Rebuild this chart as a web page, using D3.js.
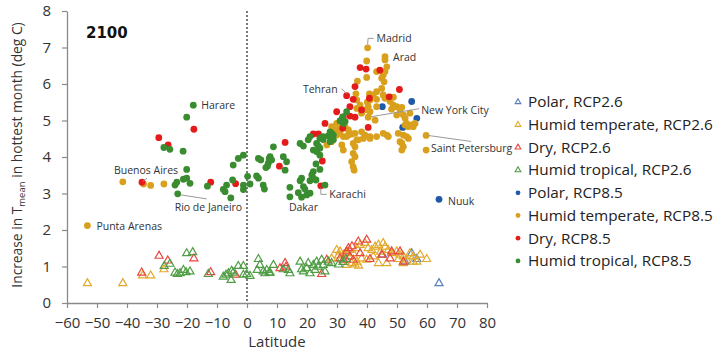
<!DOCTYPE html>
<html>
<head>
<meta charset="utf-8">
<script src="https://cdn.jsdelivr.net/npm/d3@7"></script>
<style>
  html, body { margin: 0; padding: 0; background: #fff; }
  svg { display: block; font-family: "Open Sans", "Noto Sans", sans-serif; }
</style>
</head>
<body>
<svg id="chart" width="717" height="350"></svg>
<script>
// Axis ticks
const xTicks = [-60, -50, -40, -30, -20, -10, 0, 10, 20, 30, 40, 50, 60, 70, 80];
const yTicks = [0, 1, 2, 3, 4, 5, 6, 7, 8];

// Series: [latitude, increase in hottest-month mean temperature (deg C)]
const polar26 = [[45.2,1.32],[54.9,1.36],[56.6,1.20],[52.7,1.13],[64,0.54]];

const humidTemperate26 = [
  [-53.2,0.54],[-41.4,0.54],[-34.8,0.75],[-32.1,0.75],[-27.7,0.92],[28.2,1.22],[29.9,1.45],[31,1.41],
  [32.1,1.32],[33.2,1.36],[34.3,1.45],[35.4,1.36],[36.6,1.50],[37.7,1.59],[39.3,1.64],[40.4,1.50],
  [41.6,1.45],[42.7,1.54],[43.8,1.59],[45.4,1.64],[46,1.54],[47.1,1.45],[48.2,1.36],[49.9,1.41],
  [51,1.32],[52.1,1.27],[53.2,1.18],[54.3,1.36],[55.4,1.27],[56.6,1.13],[57.7,1.32],[59.9,1.20],
  [43.8,1.09],[46.6,1.09],[34.9,1.09],[33.2,1.04],[36.6,1.13],[38.2,1.22],[39.9,1.18],[42.1,1.27],
  [52.1,1.09],[55.4,1.13],[36,1.05],[37.2,1.02],[30.5,1.30],[44.5,1.40],[50.5,1.20]
];

const dry26 = [
  [-35.1,0.83],[-29.3,1.29],[-26.4,1.16],[-17.7,1.22],[-12.1,0.84],[-3.8,0.77],[11,0.95],[12.7,1.09],
  [13,0.99],[24.9,0.79],[26.6,1.18],[37.1,1.68],[39.9,1.73],[33.2,1.41],[34.3,1.27],[32.1,1.18],
  [31,1.22],[35.4,1.18],[37.7,1.36],[41,1.20],[44.9,1.32],[47.7,1.22],[51,1.41],[52.1,1.13],
  [48.2,1.41],[33.8,1.50],[35,1.55]
];

const humidTropical26 = [
  [-25.7,1.07],[-27.6,1.01],[-24,0.83],[-23.2,0.79],[-22.3,0.81],[-21.2,0.90],[-20.3,0.84],[-19,0.86],
  [-20.1,1.36],[-18.1,1.39],[-12.9,0.79],[-7.9,0.72],[-7,0.77],[-6.2,0.81],[-5.1,0.88],[-4.6,0.83],
  [-5.3,0.63],[-2.9,1.01],[-1.2,1.01],[-1.2,0.77],[-0.1,0.79],[1,0.74],[3.8,1.20],[4.3,1.04],
  [3.4,0.90],[5.4,0.86],[6.6,0.90],[7.4,0.83],[6,0.81],[7.7,0.83],[8.8,1.04],[12.1,0.92],
  [14.3,0.81],[13.8,0.90],[17.7,1.13],[18.2,0.92],[18.8,0.86],[19.9,0.95],[20.4,1.09],[21,0.81],
  [22.7,0.90],[22.1,1.04],[23.2,1.13],[24.9,1.18],[23.8,0.99],[26,0.86],[25.4,1.04],[27.1,1.13],
  [28.2,1.09],[30.5,1.05],[32,1.12],[33,1.20]
];

const polar85 = [[54.9,5.52],[45.1,5.38],[56.6,5.06],[51.9,4.81],[64,2.84]];

const humidTemperate85 = [
  [-53.2,2.12],[-41.4,3.32],[-34.5,3.26],[-32.1,3.22],[-27.7,3.26],
  [40.2,6.99],[46,6.75],[46,6.66],[46.6,6.47],[46,6.34],[45.4,6.25],[44.9,6.16],[45.7,6.06],
  [39.9,6.63],[43.2,6.34],[39.9,6.18],[36.8,6.08],[44.9,5.88],[45.4,5.70],[36.3,5.73],[40.8,5.73],
  [42.1,5.70],[43.2,5.58],[41,5.56],[40.1,5.50],[48.8,5.64],[43.2,5.79],[46,5.61],[47.7,5.52],
  [48.8,5.42],[36.6,5.56],[37.7,5.42],[40.4,5.38],[36.6,5.33],[38.2,5.20],[39.3,5.29],[41,5.24],
  [43.2,5.38],[48.2,5.31],[49.9,5.38],[51,5.29],[51.6,5.36],[49.9,5.15],[52.1,5.15],[54.3,5.20],
  [52.7,5.06],[40.4,5.09],[42.7,5.01],[53.2,4.92],[54.9,4.88],[56,4.92],[55.4,4.83],[53.8,4.83],
  [52.7,4.88],[29.9,4.92],[31,4.83],[32.7,4.83],[33.8,4.74],[31,4.69],[32.1,4.56],[33.8,4.60],
  [36,4.65],[38.2,4.69],[39.3,4.60],[41,4.56],[43.2,4.56],[45.4,4.65],[46.6,4.60],[38.8,4.51],
  [36.6,4.47],[52.1,4.60],[53.2,4.56],[51.6,4.38],[52.1,4.28],[51.6,4.19],[36,4.28],[35.4,4.10],
  [36,4.01],[34.9,3.87],[35.4,3.73],[35.7,3.64],[26.6,4.33],[28.2,4.42],[59.7,4.19],[59.7,4.59],
  [31.6,4.33],[32.1,4.19],[35.4,4.37],[41,4.51],[47.1,4.56],[51,4.42],[50.4,4.65],[53.8,4.51],
  [29.3,4.74],[29.9,4.60],[28.2,4.83],[37.1,4.47],[34.9,4.63],[33.2,4.56]
];

const dry85 = [
  [-35,3.31],[-29.4,4.53],[-26.3,4.33],[-17.7,4.76],[-12.1,3.31],[-3.8,3.27],
  [37.7,6.45],[39.7,6.41],[44.3,6.38],[36,5.93],[50.8,5.85],[33.2,5.68],[35.4,5.58],[40.8,5.61],
  [47.4,5.65],[34.3,5.38],[29.9,5.24],[38.2,5.29],[32.1,5.10],[34.3,5.12],[36,5.09],[26,4.92],
  [31.9,4.79],[40.4,4.81],[22.1,4.63],[23.8,4.63],[12.7,4.40],[10.8,3.75],[25.1,3.89],[24.6,3.21]
];

const humidTropical85 = [
  [-17.9,5.42],[-20.1,5.09],[-27.7,4.26],[-25.7,4.21],[-21.3,4.16],[-20.1,3.66],[-23.4,3.31],[-24,3.23],
  [-21.2,3.39],[-20.1,3.42],[-19,3.28],[-23.1,2.99],[-13.2,3.20],[-7.9,3.11],[-7.3,3.05],[-6.8,3.23],
  [-4.8,3.37],[-5.4,2.88],[-1.2,3.23],[-1.2,3.11],[0.2,3.47],[1,3.26],[-4.6,3.78],[-2.9,3.96],
  [-1.2,4.05],[3.2,3.48],[3.8,3.42],[5.4,3.23],[5.8,3.12],[3.8,3.96],[4.6,3.92],[7.4,3.96],
  [7.1,3.83],[6.3,3.71],[6.8,3.75],[8.8,4.28],[12.1,4.01],[13.2,3.87],[12.7,3.64],[7.7,4.01],
  [8.2,3.92],[17.7,4.37],[18.8,4.30],[20.4,4.47],[21,4.56],[23.2,4.37],[24.3,4.24],[23.2,4.15],
  [22.1,4.19],[23.8,4.30],[25.4,4.48],[27.1,4.58],[28.2,4.65],[28.8,4.47],[27.7,4.42],[24.3,4.05],
  [23,3.81],[24.3,3.66],[22.1,3.60],[21.6,3.51],[22.1,3.42],[23,3.37],[21,3.35],[18.2,3.42],
  [17.7,3.35],[26,3.23],[18.8,3.19],[19.3,3.12],[21,3.01],[19.9,2.96],[14.3,3.17],[14.3,2.91],
  [18.2,2.90],[17.1,3.02],[33.2,5.24],[31.9,5.10],[31.6,5.03],[31,4.99],[32.7,4.97],[32.1,4.92],
  [27.7,4.69],[28.8,4.60],[25.4,4.56],[24.3,4.51]
];

// Named places: [name, latitude, value]
const cities = [
  ["Harare", -17.9, 5.42], ["Buenos Aires", -35, 3.31], ["Rio de Janeiro", -23.1, 2.99],
  ["Punta Arenas", -53.2, 2.12], ["Dakar", 14.3, 2.91], ["Karachi", 24.6, 3.21],
  ["Nuuk", 64, 2.84], ["Madrid", 40.2, 6.99], ["Arad", 46, 6.75], ["Tehran", 33.2, 5.68],
  ["New York City", 40.4, 5.09], ["Saint Petersburg", 59.7, 4.19]
];

const seriesNames = [
  "Polar, RCP2.6", "Humid temperate, RCP2.6", "Dry, RCP2.6", "Humid tropical, RCP2.6",
  "Polar, RCP8.5", "Humid temperate, RCP8.5", "Dry, RCP8.5", "Humid tropical, RCP8.5"
];

// ---- drawing ----
const svg = d3.select("#chart");
const x = d3.scaleLinear().domain([-60, 80]).range([67, 487]);
const y = d3.scaleLinear().domain([0, 8]).range([303, 11]);

const series = [
  { name: seriesNames[0], data: polar26,          color: "#5a7fc0", shape: "tri" },
  { name: seriesNames[1], data: humidTemperate26, color: "#e2aa2c", shape: "tri" },
  { name: seriesNames[2], data: dry26,            color: "#e8473f", shape: "tri" },
  { name: seriesNames[3], data: humidTropical26,  color: "#4f9d45", shape: "tri" },
  { name: seriesNames[4], data: polar85,          color: "#1f5aa6", shape: "dot" },
  { name: seriesNames[5], data: humidTemperate85, color: "#d9a01d", shape: "dot" },
  { name: seriesNames[6], data: dry85,            color: "#e41b1b", shape: "dot" },
  { name: seriesNames[7], data: humidTropical85,  color: "#3a8c30", shape: "dot" }
];

// axes
const axisColor = "#8a8a8a";
const xAxis = svg.append("g")
  .attr("transform", `translate(0,${y(0)})`)
  .call(d3.axisBottom(x).tickValues(xTicks).tickSize(5).tickPadding(9).tickSizeOuter(0));
const yAxis = svg.append("g")
  .attr("transform", `translate(${x(-60)},0)`)
  .call(d3.axisLeft(y).tickValues(yTicks).tickSize(5).tickPadding(11).tickSizeOuter(0));
[xAxis, yAxis].forEach(g => {
  g.select(".domain").attr("stroke", axisColor).attr("stroke-width", 1.3);
  g.selectAll(".tick line").attr("stroke", axisColor).attr("stroke-width", 1.2);
  g.selectAll(".tick text").attr("fill", "#333").attr("font-size", 15)
    .attr("font-family", "'Open Sans', sans-serif");
});

// equator line
svg.append("line")
  .attr("x1", x(0)).attr("x2", x(0)).attr("y1", y(8)).attr("y2", y(0))
  .attr("stroke", "#333").attr("stroke-width", 1.3).attr("stroke-dasharray", "2,2");

// axis titles
svg.append("text")
  .attr("x", (x(-60) + x(80)) / 2).attr("y", 347)
  .attr("text-anchor", "middle").attr("font-size", 15).attr("fill", "#333")
  .text("Latitude");

const yTitle = svg.append("text")
  .attr("transform", `translate(22,${(y(0) + y(8)) / 2 - 2}) rotate(-90)`)
  .attr("text-anchor", "middle").attr("font-size", 13.8).attr("fill", "#333");
yTitle.append("tspan").text("Increase in T");
yTitle.append("tspan").attr("font-size", 9.5).attr("dy", 3).text("mean");
yTitle.append("tspan").attr("dy", -3).text(" in hottest month (deg C)");

// year tag
svg.append("text")
  .attr("x", 86).attr("y", 37.5)
  .attr("font-size", 15).attr("font-weight", "bold").attr("fill", "#111")
  .attr("font-family", "'DejaVu Sans', sans-serif")
  .text("2100");

// marks
const tri = d3.symbol().type(d3.symbolTriangle).size(28);
series.forEach(s => {
  const g = svg.append("g");
  if (s.shape === "tri") {
    g.selectAll("path").data(s.data).join("path")
      .attr("d", tri)
      .attr("transform", d => `translate(${x(d[0])},${y(d[1])})`)
      .attr("fill", "none").attr("stroke", s.color).attr("stroke-width", 1.2);
  } else {
    g.selectAll("circle").data(s.data).join("circle")
      .attr("cx", d => x(d[0])).attr("cy", d => y(d[1])).attr("r", 3.4)
      .attr("fill", s.color);
  }
});

// place labels and leader lines
const labelLayout = {
  "Harare":           { dx: 8,   dy: 0,   anchor: "start" },
  "Buenos Aires":     { dx: 4,   dy: -12, anchor: "middle", leader: [[5, -4], [1, -1]] },
  "Rio de Janeiro":   { dx: -3,  dy: 13,  anchor: "start", leader: [[3, 1], [29, 5]] },
  "Punta Arenas":     { dx: 9,   dy: 1,   anchor: "start" },
  "Dakar":            { dx: -1,  dy: 11,  anchor: "start" },
  "Karachi":          { dx: 8.5, dy: 8.5, anchor: "start", leader: [[0, 2], [0, 8.5], [6, 8.5]] },
  "Nuuk":             { dx: 9,   dy: 1.5, anchor: "start" },
  "Madrid":           { dx: 9,   dy: -9.5,anchor: "start", leader: [[0, -3.5], [0.5, -9.5], [6, -9.5]] },
  "Arad":             { dx: 8,   dy: 0.5, anchor: "start" },
  "Tehran":           { dx: -9,  dy: -6,  anchor: "end", leader: [[-5, -7], [0, -2]] },
  "New York City":    { dx: 53,  dy: -6.5,anchor: "start", leader: [[3, -0.5], [51, -8.5]] },
  "Saint Petersburg": { dx: 5,   dy: -1.5,anchor: "start" }
};
const labelG = svg.append("g").attr("font-size", 10.5).attr("fill", "#333");
cities.forEach(([name, lat, val]) => {
  const L = labelLayout[name];
  const px = x(lat), py = y(val);
  if (L.leader) {
    labelG.append("path")
      .attr("d", d3.line()(L.leader.map(p => [px + p[0], py + p[1]])))
      .attr("fill", "none").attr("stroke", "#9a9a9a").attr("stroke-width", 1);
  }
  labelG.append("text")
    .attr("x", px + L.dx).attr("y", py + L.dy).attr("dy", "0.35em")
    .attr("text-anchor", L.anchor).text(name);
});
// leader from the upper Saint Petersburg-area point
const spb = humidTemperate85.find(d => d[0] === 59.7 && d[1] === 4.59);
labelG.append("line")
  .attr("x1", x(spb[0]) + 2).attr("y1", y(spb[1]))
  .attr("x2", x(spb[0]) + 45).attr("y2", y(spb[1]) + 6)
  .attr("stroke", "#9a9a9a").attr("stroke-width", 1);

// legend
const legend = svg.append("g").attr("transform", "translate(518,102)");
const legendTri = d3.symbol().type(d3.symbolTriangle).size(14);
series.forEach((s, i) => {
  const row = legend.append("g").attr("transform", `translate(0,${i * 22.7})`);
  if (s.shape === "tri") {
    row.append("path").attr("d", legendTri)
      .attr("fill", "none").attr("stroke", s.color).attr("stroke-width", 1.1);
  } else {
    row.append("circle").attr("r", 2.4).attr("fill", s.color);
  }
  row.append("text").attr("x", 10).attr("dy", "0.35em")
    .attr("font-size", 15.3).attr("fill", "#222").text(s.name);
});
</script>
</body>
</html>
